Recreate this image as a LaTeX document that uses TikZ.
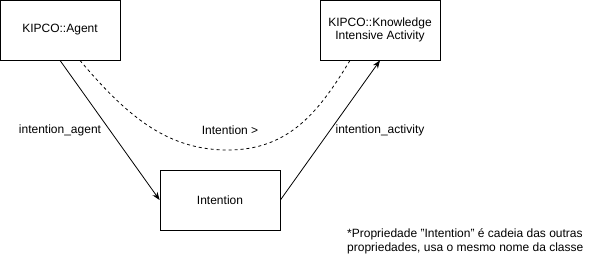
\documentclass[tikz,border=0pt]{standalone}
\usepackage{fontspec}
\setmainfont{Liberation Sans}
\usetikzlibrary{arrows.meta}

\begin{document}
\begin{tikzpicture}
[x=1pt,y=-1pt,%
  classDecorate/.style={shape=rectangle,draw,thick,minimum width=120pt,minimum height=60pt,align=center,inner sep=0pt},%
  lineDecorate/.style={-{Stealth[length=8pt,width=6pt]},thick},%
  chainDecorate/.style={dashed,thick},%
  labelDecorate/.style={inner sep=0pt},%
  font=\fontsize{12}{13.5}\selectfont]
\useasboundingbox (0,0) rectangle (611,255);
%% classes
\foreach \nodename/\x/\y/\txt in {
  agent/60/30/{KIPCO::Agent},
  activity/380/30/{KIPCO::Knowledge\\Intensive Activity},
  intention/220/200/{Intention}}
{
  \node (\nodename) at (\x,\y) [classDecorate] {\txt};
}
%% properties
\draw[lineDecorate] (agent.south) -- (intention.west);
\draw[lineDecorate] (intention.east) -- (activity.south);
\draw[chainDecorate] ([xshift=20pt]agent.south)
  .. controls (130,120) and (170,150) .. (228,150)
  .. controls (290,150) and (320,110) .. ([xshift=-30pt]activity.south);
%% labels
\node (agentlabel) at (60,130) [labelDecorate] {intention\_agent};
\node (chainlabel) at (230,130) [labelDecorate] {Intention >};
\node (activitylabel) at (380,130) [labelDecorate] {intention\_activity};
\node (note) at (347,241.5) [labelDecorate,anchor=west,align=left]
  {*Propriedade "Intention" é cadeia das outras\\propriedades, usa o mesmo nome da classe};
\end{tikzpicture}
\end{document}
